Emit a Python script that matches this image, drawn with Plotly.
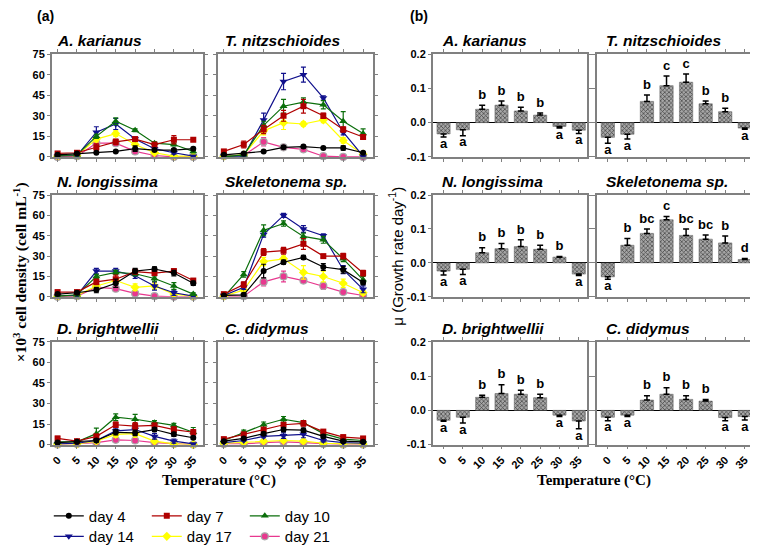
import plotly.graph_objects as go

# ---------------- data ----------------
temps = [0, 5, 10, 15, 20, 25, 30, 35]
temp_labels = ["0", "5", "10", "15", "20", "25", "30", "35"]
species = ["A. karianus", "T. nitzschioides", "N. longissima",
           "Skeletonema sp.", "D. brightwellii", "C. didymus"]
days = ["day 4", "day 7", "day 10", "day 14", "day 17", "day 21"]

# cell density (x10^3 cells/mL), rows = day 4, 7, 10, 14, 17, 21
ak_density = [[1.5, 2.5, 3, 4, 6, 5, 5, 6],
              [2.5, 3, 7, 11, 13, 9, 12.5, 12.5],
              [1, 1.5, 15, 26, 19.5, 10, 9, 4],
              [0.5, 1, 18, 24, 13, 6, 3, 0.5],
              [0.5, 1, 13, 17, 9, 3, 0.5, 0.5],
              [0, 0.5, 10, 10, 4, 1, 0, 0]]
ak_density_err = [[0.5, 0.5, 0.5, 0.5, 2, 1, 1, 1],
                  [1, 1, 2.5, 2, 1, 1, 3, 1],
                  [0.5, 0.5, 1.5, 2.5, 1, 1, 1, 1],
                  [0.5, 0.5, 4, 4, 1.5, 1, 1, 0.5],
                  [0.5, 0.5, 2, 2, 2, 1, 0.5, 0.5],
                  [0.3, 0.3, 1, 1.5, 1.5, 0.5, 0.3, 0.3]]

tn_density = [[1.5, 2.5, 4, 7, 7.5, 6.5, 6.5, 3],
              [4, 9, 20, 30, 37, 30, 20, 14.5],
              [0, 1.5, 23, 37, 40, 38, 26, 17],
              [0.5, 0.5, 27, 55, 60, 43, 18, 0.5],
              [0.5, 1.5, 19, 25, 24, 27, 12, 2],
              [0.5, 1, 11, 7, 5.5, 0.5, 0, 0]]
tn_density_err = [[0.5, 0.5, 0.5, 1, 1, 0.5, 1.5, 0.5],
                  [1, 2.5, 3, 4, 5, 2, 2, 1.5],
                  [0.5, 0.5, 3, 5, 3, 3, 7, 3.5],
                  [0.5, 0.5, 5, 6, 5.5, 1.5, 2, 0.5],
                  [0.5, 0.5, 3, 5, 1.5, 2, 2, 0.5],
                  [0.3, 0.3, 3, 1, 1.5, 0.5, 0.3, 0.3]]

nl_density = [[2, 3, 5, 10, 19, 20.5, 17.5, 10],
              [3.5, 3.5, 11, 13, 18.5, 17.5, 19, 12],
              [0.5, 1.5, 15, 18, 17, 13.5, 8, 2],
              [0.5, 1, 19, 19, 15.5, 8, 3, 0.5],
              [0.5, 1, 8, 12, 7, 8, 2, 0.5],
              [0, 0.5, 7, 6, 2.5, 0.5, 0, 0]]
nl_density_err = [[1, 1, 2, 3, 2, 1.5, 2, 1.5],
                  [1, 1, 2, 3, 1.5, 1.5, 1.5, 1.5],
                  [0.5, 0.5, 1.5, 1.5, 1.5, 2, 2.5, 1],
                  [0.5, 0.5, 2, 2, 2, 3, 2, 0.5],
                  [0.5, 0.5, 2, 2, 2.5, 2.5, 1, 0.5],
                  [0.3, 0.3, 1.5, 1, 1, 0.3, 0.3, 0.3]]

sk_density = [[1, 1.5, 19, 25.5, 29, 22, 20, 10.5],
              [2, 9, 33, 34, 39, 30, 30, 17.5],
              [0, 16.5, 49, 54, 44.5, 42, 28, 12.5],
              [1, 7, 46, 60, 50, 45, 20, 5.5],
              [0.5, 5, 26, 28, 18, 15, 10, 3],
              [0.5, 0.5, 11, 15, 12, 8, 3.5, 1]]
sk_density_err = [[0.5, 1, 5, 1.5, 1.5, 2.5, 2.5, 1.5],
                  [1, 2, 2.5, 2.5, 4, 1, 2, 2],
                  [0.5, 2, 4, 2, 2.5, 2.5, 2, 2.5],
                  [0.5, 1.5, 2, 1.5, 2.5, 1.5, 3, 2.5],
                  [0.5, 1, 3, 2, 5, 4, 3, 1.5],
                  [0.3, 0.5, 3, 4, 1, 2.5, 1, 0.5]]

db_density = [[1.5, 2, 3, 9, 8.5, 11, 7.5, 5],
              [4.5, 2.5, 6, 14.5, 13.5, 14, 11, 9],
              [2, 2, 8, 20, 18.5, 16, 14, 9],
              [0.5, 1, 3, 10, 11, 6, 2.5, 0.5],
              [0.5, 0.5, 2.5, 7.5, 8, 2.5, 0.5, 0],
              [0, 0.5, 1.5, 3.5, 3, 1.5, 0.5, 0]]
db_density_err = [[0.5, 0.5, 1, 2, 2, 1.5, 1.5, 1],
                  [1.5, 1, 1.5, 2, 2.5, 1.5, 2, 2],
                  [0.5, 0.5, 4, 2.5, 3.5, 1.5, 1.5, 3.5],
                  [0.5, 0.5, 1, 2, 2, 2, 1.5, 0.5],
                  [0.3, 0.3, 1, 2, 2.5, 1, 0.3, 0.3],
                  [0.3, 0.3, 0.5, 1, 1, 0.5, 0.3, 0.3]]

cd_density = [[2.5, 4.5, 8, 11, 10.5, 6, 2.5, 2],
              [4, 7.5, 11, 14.5, 15.5, 9.5, 5.5, 4.5],
              [3, 9, 14.5, 18.5, 16, 8, 4, 3],
              [1.5, 3, 6, 6.5, 7.5, 3, 1.5, 1],
              [1, 1.5, 2.5, 3, 2.5, 1, 0.5, 0.5],
              [0.5, 0.5, 1.5, 2, 1.5, 0.5, 0, 0]]
cd_density_err = [[0.5, 0.5, 1, 1.5, 1.5, 1, 0.5, 0.5],
                  [1, 1, 1.5, 1.5, 2, 1, 1, 1],
                  [0.5, 1.5, 2, 2, 1.5, 1, 0.5, 0.5],
                  [0.5, 0.5, 1, 2, 2.5, 1, 0.5, 0.5],
                  [0.3, 0.3, 0.5, 1, 1, 0.5, 0.3, 0.3],
                  [0.3, 0.3, 0.3, 0.5, 0.5, 0.3, 0.3, 0.3]]

# growth rate (day^-1)
ak_growth = [-0.033, -0.021, 0.039, 0.051, 0.034, 0.022, -0.011, -0.022]
ak_growth_err = [0.009, 0.017, 0.012, 0.012, 0.011, 0.006, 0.005, 0.010]
ak_letters = ["a", "a", "b", "b", "b", "b", "a", "a"]

tn_growth = [-0.043, -0.034, 0.062, 0.108, 0.118, 0.055, 0.032, -0.016]
tn_growth_err = [0.017, 0.014, 0.019, 0.028, 0.024, 0.008, 0.010, 0.003]
tn_letters = ["a", "a", "b", "c", "c", "b", "b", "a"]

nl_growth = [-0.024, -0.019, 0.030, 0.042, 0.048, 0.040, 0.017, -0.033]
nl_growth_err = [0.012, 0.015, 0.015, 0.015, 0.020, 0.012, 0.002, 0.004]
nl_letters = ["a", "a", "b", "b", "b", "b", "b", "a"]

sk_growth = [-0.041, 0.052, 0.087, 0.127, 0.081, 0.070, 0.059, 0.010]
sk_growth_err = [0.007, 0.020, 0.013, 0.010, 0.019, 0.012, 0.020, 0.003]
sk_letters = ["a", "b", "bc", "c", "bc", "bc", "b", "d"]

db_growth = [-0.029, -0.020, 0.038, 0.049, 0.047, 0.037, -0.014, -0.031]
db_growth_err = [0.003, 0.017, 0.006, 0.026, 0.012, 0.010, 0.004, 0.023]
db_letters = ["a", "a", "b", "b", "b", "b", "a", "a"]

cd_growth = [-0.020, -0.014, 0.030, 0.047, 0.032, 0.027, -0.021, -0.018]
cd_growth_err = [0.010, 0.004, 0.013, 0.019, 0.011, 0.005, 0.009, 0.010]
cd_letters = ["a", "a", "b", "b", "b", "b", "a", "a"]

density_sets = [ak_density, tn_density, nl_density, sk_density, db_density, cd_density]
density_err_sets = [ak_density_err, tn_density_err, nl_density_err,
                    sk_density_err, db_density_err, cd_density_err]
growth_sets = [ak_growth, tn_growth, nl_growth, sk_growth, db_growth, cd_growth]
growth_err_sets = [ak_growth_err, tn_growth_err, nl_growth_err,
                   sk_growth_err, db_growth_err, cd_growth_err]
letter_sets = [ak_letters, tn_letters, nl_letters, sk_letters, db_letters, cd_letters]

density_ticks = [0, 15, 30, 45, 60, 75]
growth_ticks = [-0.1, 0.0, 0.1, 0.2]
growth_tick_text = ["-0.1", "0.0", "0.1", "0.2"]

# ---------------- styles ----------------
# page is 758x549; the page body adds an 8px margin, so the figure is offset by it
OFF = 8
W, H = 758 - OFF, 562
day_colors = ["#000000", "#b00000", "#0b6e0b", "#10108c", "#ffff00", "#e8388f"]
day_symbols = ["circle", "square", "triangle-up", "triangle-down", "diamond", "circle"]
day_sizes = [6, 6, 7, 7, 7, 7]
day_edge = ["#000000", "#b00000", "#0b6e0b", "#10108c", "#ffff00", "#a8a8a8"]

SANS = "Liberation Sans, Arial, sans-serif"
SERIF = "Liberation Serif, Times New Roman, serif"
FRAME = "#808080"

# positions in page pixels
line_cols = [(50, 202), (217, 373)]
bar_cols = [(433, 588), (598, 755)]
rows = [(49, 154), (193, 297), (343, 448)]


def px(xp):
    return (xp - OFF) / W


def py(yp):
    return 1 - (yp - OFF) / H


def xdom(a, b):
    return [px(a), px(b)]


def ydom(top, bottom):
    return [py(bottom), py(top)]


fig = go.Figure()
layout_axes = {}
annotations = []
tickfont = dict(family=SANS, size=11, color="#000", weight="bold")

for s in range(6):
    r, c = divmod(s, 2)
    # ---------- line panel ----------
    k = s + 1
    xa, ya = f"x{k}", f"y{k}"
    for d in reversed(range(6)):
        fig.add_trace(go.Scatter(
            x=temps, y=density_sets[s][d], xaxis=xa, yaxis=ya,
            mode="lines+markers", name=days[d],
            line=dict(color=day_colors[d], width=1.2),
            marker=dict(symbol=day_symbols[d], size=day_sizes[d], color=day_colors[d],
                        line=dict(color=day_edge[d], width=1.2 if d == 5 else 0)),
            error_y=dict(type="data", array=density_err_sets[s][d], color=day_colors[d],
                         thickness=1.2, width=2.5),
            cliponaxis=False,
            showlegend=(s == 0),
            legend="legend" if d < 3 else "legend2",
            legendrank=d + 1,
        ))
    layout_axes[f"xaxis{k}"] = dict(
        domain=xdom(*line_cols[c]), anchor=ya, range=[-1.5, 37.5],
        tickvals=temps, ticktext=temp_labels, showticklabels=(r == 2), tickangle=-45,
        ticks="outside", ticklen=3, tickcolor=FRAME, showline=True, linecolor=FRAME,
        linewidth=1.5, mirror="ticks", showgrid=False, zeroline=False, tickfont=tickfont)
    layout_axes[f"yaxis{k}"] = dict(
        domain=ydom(*rows[r]), anchor=xa, range=[0, 75], tickvals=density_ticks,
        showticklabels=(c == 0), ticks="outside", ticklen=3, tickcolor=FRAME,
        showline=True, linecolor=FRAME, linewidth=1.5, mirror="ticks", showgrid=False,
        zeroline=False, tickfont=tickfont)
    annotations.append(dict(
        text=f"<b><i>{species[s]}</i></b>",
        x=px(line_cols[c][0] + 3 + 2 * c), y=py(rows[r][0] - 3),
        xanchor="left", yanchor="bottom",
        font=dict(family=SANS, size=15.5, color="#000")))

    # ---------- bar panel ----------
    k = s + 7
    xa, ya = f"x{k}", f"y{k}"
    g = growth_sets[s]
    ge = growth_err_sets[s]
    up = [e if v >= 0 else 0 for v, e in zip(g, ge)]
    down = [e if v < 0 else 0 for v, e in zip(g, ge)]
    fig.add_trace(go.Bar(
        x=temps, y=g, xaxis=xa, yaxis=ya, width=3.4, showlegend=False,
        marker=dict(color="#8c8c8c", line=dict(color="#5a5a5a", width=0.5),
                    pattern=dict(shape="x", size=3, solidity=0.4, fgcolor="#404040",
                                 bgcolor="#a6a6a6", fillmode="replace")),
        error_y=dict(type="data", symmetric=False, array=up, arrayminus=down,
                     color="#000", thickness=1.5, width=3),
    ))
    label_y = [v + e + 0.028 if v >= 0 else v - e - 0.022 for v, e in zip(g, ge)]
    fig.add_trace(go.Scatter(
        x=temps, y=label_y, xaxis=xa, yaxis=ya, mode="text", text=letter_sets[s],
        textfont=dict(family=SANS, size=13, color="#000", weight="bold"),
        showlegend=False, cliponaxis=False, hoverinfo="skip"))
    layout_axes[f"xaxis{k}"] = dict(
        domain=xdom(*bar_cols[c]), anchor=ya, range=[-2.8, 37.1],
        tickvals=temps, ticktext=temp_labels, showticklabels=(r == 2), tickangle=-45,
        ticks="outside", ticklen=3, tickcolor=FRAME, showline=True, linecolor=FRAME,
        linewidth=1.5, mirror="ticks", showgrid=False, zeroline=False, tickfont=tickfont)
    layout_axes[f"yaxis{k}"] = dict(
        domain=ydom(*rows[r]), anchor=xa, range=[-0.1, 0.2], tickvals=growth_ticks,
        ticktext=growth_tick_text, showticklabels=(c == 0), ticks="outside", ticklen=3,
        tickcolor=FRAME, showline=True, linecolor=FRAME, linewidth=1.5, mirror="ticks",
        showgrid=False, zeroline=True, zerolinecolor="#000", zerolinewidth=1.2,
        tickfont=tickfont)
    annotations.append(dict(
        text=f"<b><i>{species[s]}</i></b>",
        x=px(bar_cols[c][0] + 7), y=py(rows[r][0] - 3),
        xanchor="left", yanchor="bottom",
        font=dict(family=SANS, size=15.5, color="#000")))

# panel labels and axis titles
annotations += [
    dict(text="<b>(a)</b>", x=px(33), y=py(10), xanchor="left", yanchor="middle",
         font=dict(family=SANS, size=14, color="#000")),
    dict(text="<b>(b)</b>", x=px(408), y=py(10), xanchor="left", yanchor="middle",
         font=dict(family=SANS, size=14, color="#000")),
    dict(text="<b>×10<sup>3</sup> cell density (cell mL<sup>-1</sup>)</b>", x=px(18),
         y=py(272), xanchor="center", yanchor="middle", textangle=-90,
         font=dict(family=SERIF, size=15.5, color="#000")),
    dict(text="μ (Growth rate day<sup>-1</sup>)", x=px(396), y=py(255),
         xanchor="center", yanchor="middle", textangle=-90,
         font=dict(family=SANS, size=15, color="#000")),
    dict(text="<b>Temperature (°C)</b>", x=px(218), y=py(485), xanchor="center",
         yanchor="middle", font=dict(family=SERIF, size=15, color="#000")),
    dict(text="<b>Temperature (°C)</b>", x=px(595), y=py(485), xanchor="center",
         yanchor="middle", font=dict(family=SERIF, size=15, color="#000")),
]
for a in annotations:
    a.setdefault("xref", "paper")
    a.setdefault("yref", "paper")
    a.setdefault("showarrow", False)

legend_common = dict(orientation="h", xanchor="left", yanchor="middle",
                     entrywidth=53, entrywidthmode="pixels", bgcolor="rgba(0,0,0,0)",
                     font=dict(family=SANS, size=15, color="#000"), itemsizing="trace")

fig.update_layout(
    width=W, height=H, margin=dict(l=0, r=0, t=0, b=0),
    paper_bgcolor="white", plot_bgcolor="white",
    annotations=annotations,
    legend=dict(x=px(47), y=py(521), **legend_common),
    legend2=dict(x=px(47), y=py(542), **legend_common),
    **layout_axes,
)

fig.write_html("out.html")
